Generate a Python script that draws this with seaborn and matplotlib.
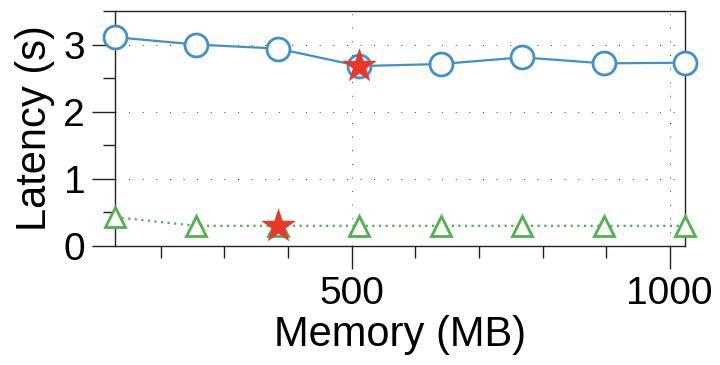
import matplotlib
matplotlib.use("Agg")
import matplotlib.pyplot as plt
from matplotlib.ticker import FixedLocator
import seaborn as sns
import pandas as pd

# Memory configurations (MB) and measured latency (s)
memory_mb = [128, 256, 384, 512, 640, 768, 896, 1024]
latency_a = [3.11, 3.00, 2.94, 2.68, 2.71, 2.81, 2.72, 2.73]
latency_b = [0.43, 0.30, 0.30, 0.30, 0.30, 0.30, 0.30, 0.30]

# Highlighted (best) configurations
best_mem = [512, 384]
best_lat = [2.68, 0.30]

BLUE = "#4191c8"
GREEN = "#52b04f"
RED = "#e8382b"

sns.set_theme(style="ticks")
plt.rcParams["font.family"] = ["Liberation Sans", "DejaVu Sans"]
plt.rcParams["text.color"] = "black"
plt.rcParams["axes.labelcolor"] = "black"
plt.rcParams["xtick.color"] = "black"
plt.rcParams["ytick.color"] = "black"

df = pd.DataFrame({"mem": memory_mb, "a": latency_a, "b": latency_b})
best = pd.DataFrame({"mem": best_mem, "lat": best_lat})

fig = plt.figure(figsize=(7.2, 3.65), dpi=100)
ax = fig.add_axes([115 / 720, 1 - 246 / 365, 570 / 720, 235 / 365])

sns.lineplot(data=df, x="mem", y="a", ax=ax, color=BLUE, lw=1.6,
             marker="o", markersize=16.5, markerfacecolor="white",
             markeredgecolor=BLUE, markeredgewidth=2.0, clip_on=False, zorder=4)
sns.lineplot(data=df, x="mem", y="b", ax=ax, color=GREEN, lw=1.7,
             linestyle=(0, (0.9, 1.9)), marker="^", markersize=15,
             markerfacecolor="white", markeredgecolor=GREEN,
             markeredgewidth=2.0, clip_on=False, zorder=4)
sns.scatterplot(data=best, x="mem", y="lat", ax=ax, marker="*", s=700,
                color=RED, edgecolor=RED, linewidth=0, clip_on=False, zorder=6)

ax.set_xlim(128, 1024)
ax.set_ylim(0, 3.5)
ax.xaxis.set_major_locator(FixedLocator([500, 1000]))
ax.xaxis.set_minor_locator(FixedLocator([200, 300, 400, 600, 700, 800, 900]))
ax.yaxis.set_major_locator(FixedLocator([0, 1, 2, 3]))
ax.yaxis.set_minor_locator(FixedLocator([0.5, 1.5, 2.5, 3.5]))

ax.grid(True, which="major", color="#444444", lw=0.7, linestyle=(0, (1, 13)))

for s in ax.spines.values():
    s.set_visible(True)
    s.set_color("#222222")
    s.set_linewidth(1.0)

ax.tick_params(axis="both", which="major", direction="out", length=16.5,
               width=1.0, color="#222222", labelsize=28, pad=5,
               labelcolor="black")
ax.tick_params(axis="both", which="minor", direction="out", length=8.3,
               width=1.0, color="#222222")

ax.set_xlabel("Memory (MB)", fontsize=30, labelpad=2, color="black")
ax.set_ylabel("Latency (s)", fontsize=30, labelpad=6, color="black")

fig.savefig("out.png", dpi=100)
